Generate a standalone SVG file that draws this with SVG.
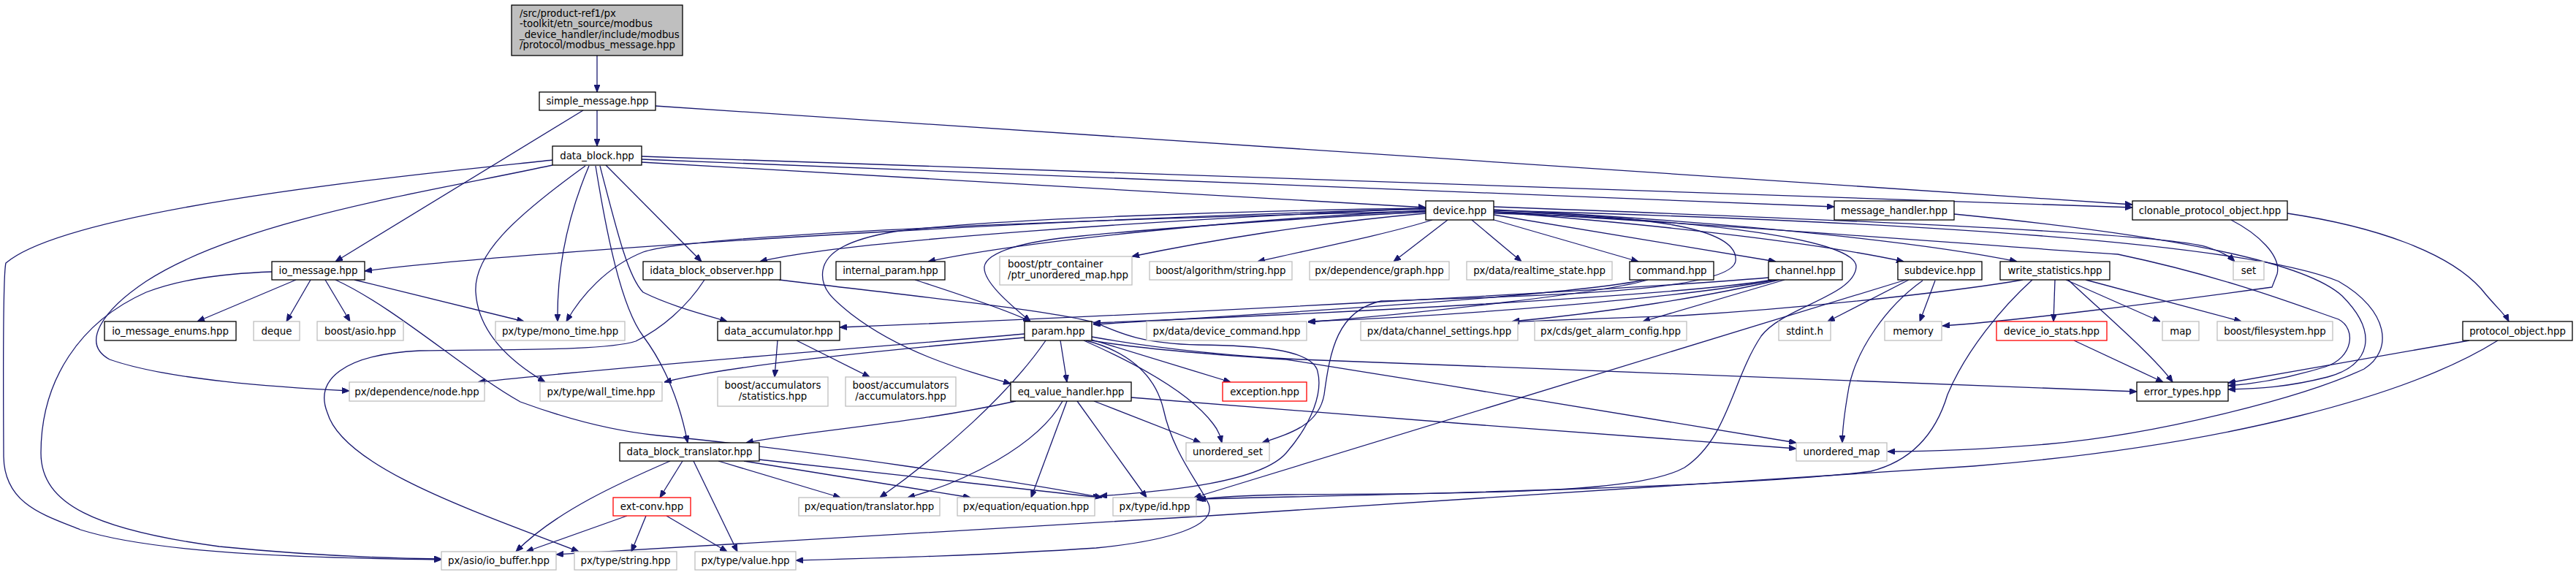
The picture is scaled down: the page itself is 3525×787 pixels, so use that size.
<svg xmlns="http://www.w3.org/2000/svg" width="3525" height="787" viewBox="0 0 3525 787">
<style>
.e{fill:none;stroke:#191970;stroke-width:1.3;marker-end:url(#ah)}
.n rect{fill:#fff;stroke:#000;stroke-width:1.3}
.g rect{fill:#fff;stroke:#bfbfbf;stroke-width:1.3}
.r rect{fill:#fff;stroke:#ff0000;stroke-width:1.3}
text{font-family:"DejaVu Sans","Liberation Sans",sans-serif;font-size:13.33px;fill:#000}
.c{text-anchor:middle}
</style>
<defs>
<marker id="ah" markerUnits="userSpaceOnUse" markerWidth="10" markerHeight="8" viewBox="0 0 10 8" refX="10" refY="4" orient="auto"><path d="M0,0 L10,4 L0,8 Z" fill="#191970" stroke="#191970"/></marker>
</defs>
<rect width="3525" height="787" fill="#fff"/>
<g id="edges">
<path class="e" d="M817,76 L817,126"/>
<path class="e" d="M817,151 L817,200"/>
<path class="e" d="M798,151 L459,358"/>
<path class="e" d="M897,145 L2918,280"/>
<path class="e" d="M878,214 L2918,284"/>
<path class="e" d="M878,218 L2510,283"/>
<path class="e" d="M878,222 L1951,284"/>
<path class="e" d="M829,226 L960,358"/>
<path class="e" d="M756,219 C600,236 100,282 8,360 C3,380 5,600 5,625 C6,690 60,705 110,725 C220,760 450,764 604,766"/>
<path class="e" d="M756,226 C600,260 330,300 200,385 C140,425 110,470 150,492 C230,520 380,530 478,535"/>
<path class="e" d="M372,372 C290,375 240,385 200,400 C110,440 56,520 56,620 C56,690 130,725 300,748 C420,760 520,764 604,765"/>
<path class="e" d="M405,383 L270,440"/>
<path class="e" d="M425,383 L392,440"/>
<path class="e" d="M445,383 L479,440"/>
<path class="e" d="M485,383 L717,440"/>
<path class="e" d="M459,383 C540,420 640,510 712,550 C780,575 840,590 900,596 C1100,615 1400,660 1508,681"/>
<path class="e" d="M801,227 C700,300 648,350 651,400 C654,450 690,490 746,523"/>
<path class="e" d="M806,227 C775,300 762,370 763,440"/>
<path class="e" d="M1951,289 C1500,300 950,320 880,345 C830,365 795,405 775,440"/>
<path class="e" d="M1951,286 C1400,300 700,345 499,371"/>
<path class="e" d="M815,227 C830,320 850,420 880,460 C910,500 930,550 941,606"/>
<path class="e" d="M821,227 C845,320 860,380 880,400 C920,420 970,432 995,440"/>
<path class="e" d="M1951,285 C1600,300 1150,330 1040,358"/>
<path class="e" d="M1951,288 C1700,300 1400,330 1270,358"/>
<path class="e" d="M1951,292 C1800,305 1650,330 1549,351"/>
<path class="e" d="M1960,301 C1900,320 1800,340 1721,358"/>
<path class="e" d="M1981,301 L1907,358"/>
<path class="e" d="M2014,301 L2082,358"/>
<path class="e" d="M2041,300 L2242,358"/>
<path class="e" d="M2044,294 L2430,358"/>
<path class="e" d="M2044,290 C2300,310 2500,335 2605,358"/>
<path class="e" d="M2044,287 C2400,305 2650,335 2760,358"/>
<path class="e" d="M2044,283 C2500,300 2950,318 3020,338 C3040,345 3050,350 3058,358"/>
<path class="e" d="M1951,290 C1750,300 1560,315 1480,323 C1400,330 1350,345 1347,365 C1345,385 1380,415 1410,440"/>
<path class="e" d="M1951,285 C1700,288 1350,300 1224,317 C1160,328 1130,345 1126,370 C1122,395 1140,410 1165,430 C1230,480 1310,505 1383,525"/>
<path class="e" d="M2044,290 C2250,295 2380,310 2375,357 C2370,400 2100,405 1890,412 C1830,425 1820,480 1812,540 C1805,580 1770,592 1727,606"/>
<path class="e" d="M2044,292 C2350,300 2540,330 2540,365 C2538,405 2440,420 2410,460 C2370,520 2365,600 2305,640 C2250,670 2100,676 1760,677 C1700,678 1665,680 1637,684"/>
<path class="e" d="M2044,288 C2500,300 3050,325 3200,385 C3270,425 3275,480 3235,505 C3150,545 2950,595 2800,608 C2700,616 2630,618 2583,618"/>
<path class="e" d="M2044,290 C2400,310 2700,335 2898,348 C3050,380 3150,420 3200,437 C3225,450 3220,490 3182,502 C3130,518 3090,525 3049,528"/>
<path class="e" d="M2674,293 C2950,320 3150,355 3205,405 C3255,455 3245,500 3185,516 C3130,530 3090,532 3049,533"/>
<path class="e" d="M3130,292 C3250,310 3350,345 3395,395 C3415,420 3428,430 3433,440"/>
<path class="e" d="M3053,301 C3090,320 3122,350 3116,375 L3109,393 C2950,415 2750,440 2658,446"/>
<path class="e" d="M3379,466 L3049,524"/>
<path class="e" d="M3418,466 C3300,540 3050,610 2700,638 C2300,668 1300,728 761,759"/>
<path class="e" d="M964,383 C940,420 905,450 870,467 C830,480 700,478 574,480 C470,485 430,520 448,565 C470,640 650,700 792,755"/>
<path class="e" d="M1066,383 C1250,405 1440,425 1500,442 C1530,455 1560,470 1640,472 C1720,473 1790,478 1802,505 C1812,535 1795,580 1760,620 C1725,660 1600,672 1505,679"/>
<path class="e" d="M1494,466 C1560,478 1700,488 1760,492 C2000,530 2300,580 2458,606"/>
<path class="e" d="M1402,457 C1200,475 900,497 654,523"/>
<path class="e" d="M1402,462 C1200,480 1000,500 909,523"/>
<path class="e" d="M1451,466 L1460,523"/>
<path class="e" d="M1431,466 C1380,540 1290,620 1204,681"/>
<path class="e" d="M1483,466 C1560,500 1630,540 1660,580 C1668,590 1670,598 1672,606"/>
<path class="e" d="M1494,465 L1684,523"/>
<path class="e" d="M1486,466 C1540,480 1580,510 1592,560 C1605,620 1640,660 1654,690 C1665,720 1600,740 1500,750 C1350,760 1200,764 1089,767"/>
<path class="e" d="M1494,461 C1600,480 1700,488 1780,492 L2924,536"/>
<path class="e" d="M1252,383 C1320,405 1380,425 1410,440"/>
<path class="e" d="M1390,549 C1250,580 1100,590 1021,606"/>
<path class="e" d="M1454,549 C1420,610 1320,660 1242,681"/>
<path class="e" d="M1460,549 L1411,681"/>
<path class="e" d="M1474,549 L1569,681"/>
<path class="e" d="M1497,549 L1643,606"/>
<path class="e" d="M1548,544 C1800,565 2200,595 2458,614"/>
<path class="e" d="M934,631 L903,681"/>
<path class="e" d="M917,631 C850,660 760,700 706,755"/>
<path class="e" d="M949,631 L1009,755"/>
<path class="e" d="M983,631 L1150,681"/>
<path class="e" d="M1018,631 L1328,681"/>
<path class="e" d="M1039,629 L1506,681"/>
<path class="e" d="M858,706 L720,755"/>
<path class="e" d="M884,706 L864,755"/>
<path class="e" d="M912,706 L995,755"/>
<path class="e" d="M1064,466 L1060,516"/>
<path class="e" d="M1090,466 L1190,516"/>
<path class="e" d="M2838,466 L2960,523"/>
<path class="e" d="M2812,383 L2810,440"/>
<path class="e" d="M2827,383 L2956,440"/>
<path class="e" d="M2854,383 L3067,440"/>
<path class="e" d="M2830,383 C2880,430 2950,490 2973,523"/>
<path class="e" d="M2768,383 C2700,395 2500,420 2300,432 C2200,436 2120,438 2069,441"/>
<path class="e" d="M2781,383 C2740,420 2690,480 2665,540 C2650,590 2620,630 2560,645 C2400,665 2000,675 1640,683"/>
<path class="e" d="M2612,383 L2501,440"/>
<path class="e" d="M2648,384 L2627,440"/>
<path class="e" d="M2631,384 C2580,420 2540,480 2530,530 C2523,570 2521,590 2521,606"/>
<path class="e" d="M2608,383 L1634,681"/>
<path class="e" d="M2250,383 C2150,405 1700,432 1496,444"/>
<path class="e" d="M2255,383 C2200,400 1950,428 1790,441"/>
<path class="e" d="M2425,383 C2300,405 1800,430 1496,442"/>
<path class="e" d="M2430,383 C2300,408 2000,432 1790,440"/>
<path class="e" d="M2435,383 C2340,405 2200,428 2069,440"/>
<path class="e" d="M2442,383 L2248,440"/>
<path class="e" d="M2420,380 C2200,398 1600,430 1149,448"/>
</g>
<g id="root"><rect x="700" y="7" width="234" height="69" style="fill:#bfbfbf;stroke:#000;stroke-width:1.3"/><text x="711" y="22.5">/src/product-ref1/px</text><text x="711" y="37">-toolkit/etn_source/modbus</text><text x="711" y="51.5">_device_handler/include/modbus</text><text x="711" y="66">/protocol/modbus_message.hpp</text></g>
<g id="simple_message" class="n"><rect x="738" y="126" width="159" height="25"/><text class="c" x="817.5" y="143">simple_message.hpp</text></g>
<g id="data_block" class="n"><rect x="756" y="200" width="122" height="26"/><text class="c" x="817" y="217.5">data_block.hpp</text></g>
<g id="device" class="n"><rect x="1951" y="275" width="93" height="26"/><text class="c" x="1997.5" y="292.5">device.hpp</text></g>
<g id="message_handler" class="n"><rect x="2510" y="275" width="164" height="26"/><text class="c" x="2592" y="292.5">message_handler.hpp</text></g>
<g id="clonable_protocol_object" class="n"><rect x="2918" y="275" width="212" height="26"/><text class="c" x="3024" y="292.5">clonable_protocol_object.hpp</text></g>
<g id="io_message" class="n"><rect x="372" y="358" width="127" height="25"/><text class="c" x="435.5" y="375">io_message.hpp</text></g>
<g id="idata_block_observer" class="n"><rect x="880" y="358" width="188" height="25"/><text class="c" x="974" y="375">idata_block_observer.hpp</text></g>
<g id="internal_param" class="n"><rect x="1144" y="358" width="149" height="25"/><text class="c" x="1218.5" y="375">internal_param.hpp</text></g>
<g id="ptr_unordered_map" class="g"><rect x="1368" y="351" width="181" height="39"/><text x="1379" y="366">boost/ptr_container</text><text x="1379" y="381">/ptr_unordered_map.hpp</text></g>
<g id="algorithm_string" class="g"><rect x="1573" y="358" width="195" height="25"/><text class="c" x="1670.5" y="375">boost/algorithm/string.hpp</text></g>
<g id="dependence_graph" class="g"><rect x="1792" y="358" width="191" height="25"/><text class="c" x="1887.5" y="375">px/dependence/graph.hpp</text></g>
<g id="realtime_state" class="g"><rect x="2007" y="358" width="199" height="25"/><text class="c" x="2106.5" y="375">px/data/realtime_state.hpp</text></g>
<g id="command" class="n"><rect x="2230" y="358" width="115" height="25"/><text class="c" x="2287.5" y="375">command.hpp</text></g>
<g id="channel" class="n"><rect x="2420" y="358" width="101" height="25"/><text class="c" x="2470.5" y="375">channel.hpp</text></g>
<g id="subdevice" class="n"><rect x="2597" y="358" width="115" height="25"/><text class="c" x="2654.5" y="375">subdevice.hpp</text></g>
<g id="write_statistics" class="n"><rect x="2737" y="358" width="150" height="25"/><text class="c" x="2812" y="375">write_statistics.hpp</text></g>
<g id="set" class="g"><rect x="3056" y="358" width="42" height="25"/><text class="c" x="3077" y="375">set</text></g>
<g id="io_message_enums" class="n"><rect x="143" y="440" width="180" height="26"/><text class="c" x="233" y="457.5">io_message_enums.hpp</text></g>
<g id="deque" class="g"><rect x="347" y="440" width="63" height="26"/><text class="c" x="378.5" y="457.5">deque</text></g>
<g id="boost_asio" class="g"><rect x="434" y="440" width="118" height="26"/><text class="c" x="493" y="457.5">boost/asio.hpp</text></g>
<g id="mono_time" class="g"><rect x="678" y="440" width="177" height="26"/><text class="c" x="766.5" y="457.5">px/type/mono_time.hpp</text></g>
<g id="data_accumulator" class="n"><rect x="982" y="440" width="167" height="26"/><text class="c" x="1065.5" y="457.5">data_accumulator.hpp</text></g>
<g id="param" class="n"><rect x="1402" y="440" width="92" height="26"/><text class="c" x="1448" y="457.5">param.hpp</text></g>
<g id="device_command" class="g"><rect x="1569" y="440" width="219" height="26"/><text class="c" x="1678.5" y="457.5">px/data/device_command.hpp</text></g>
<g id="channel_settings" class="g"><rect x="1862" y="440" width="215" height="26"/><text class="c" x="1969.5" y="457.5">px/data/channel_settings.hpp</text></g>
<g id="get_alarm_config" class="g"><rect x="2100" y="440" width="208" height="26"/><text class="c" x="2204" y="457.5">px/cds/get_alarm_config.hpp</text></g>
<g id="stdint" class="g"><rect x="2434" y="440" width="71" height="26"/><text class="c" x="2469.5" y="457.5">stdint.h</text></g>
<g id="memory" class="g"><rect x="2579" y="440" width="78" height="26"/><text class="c" x="2618" y="457.5">memory</text></g>
<g id="device_io_stats" class="r"><rect x="2732" y="440" width="151" height="26"/><text class="c" x="2807.5" y="457.5">device_io_stats.hpp</text></g>
<g id="map" class="g"><rect x="2959" y="440" width="50" height="26"/><text class="c" x="2984" y="457.5">map</text></g>
<g id="filesystem" class="g"><rect x="3034" y="440" width="158" height="26"/><text class="c" x="3113" y="457.5">boost/filesystem.hpp</text></g>
<g id="protocol_object" class="n"><rect x="3370" y="440" width="150" height="26"/><text class="c" x="3445" y="457.5">protocol_object.hpp</text></g>
<g id="dependence_node" class="g"><rect x="478" y="523" width="185" height="26"/><text class="c" x="570.5" y="540.5">px/dependence/node.hpp</text></g>
<g id="wall_time" class="g"><rect x="739" y="523" width="167" height="26"/><text class="c" x="822.5" y="540.5">px/type/wall_time.hpp</text></g>
<g id="acc_statistics" class="g"><rect x="982" y="516" width="151" height="40"/><text class="c" x="1057.5" y="531.5">boost/accumulators</text><text class="c" x="1057.5" y="546.5">/statistics.hpp</text></g>
<g id="acc_accumulators" class="g"><rect x="1157" y="516" width="151" height="40"/><text class="c" x="1232.5" y="531.5">boost/accumulators</text><text class="c" x="1232.5" y="546.5">/accumulators.hpp</text></g>
<g id="eq_value_handler" class="n"><rect x="1383" y="523" width="165" height="26"/><text class="c" x="1465.5" y="540.5">eq_value_handler.hpp</text></g>
<g id="exception" class="r"><rect x="1673" y="523" width="115" height="26"/><text class="c" x="1730.5" y="540.5">exception.hpp</text></g>
<g id="error_types" class="n"><rect x="2924" y="523" width="125" height="26"/><text class="c" x="2986.5" y="540.5">error_types.hpp</text></g>
<g id="data_block_translator" class="n"><rect x="848" y="606" width="191" height="25"/><text class="c" x="943.5" y="623">data_block_translator.hpp</text></g>
<g id="unordered_set" class="g"><rect x="1623" y="606" width="114" height="25"/><text class="c" x="1680" y="623">unordered_set</text></g>
<g id="unordered_map" class="g"><rect x="2458" y="606" width="124" height="25"/><text class="c" x="2520" y="623">unordered_map</text></g>
<g id="ext_conv" class="r"><rect x="839" y="681" width="106" height="25"/><text class="c" x="892" y="698">ext-conv.hpp</text></g>
<g id="eq_translator" class="g"><rect x="1093" y="681" width="193" height="25"/><text class="c" x="1189.5" y="698">px/equation/translator.hpp</text></g>
<g id="eq_equation" class="g"><rect x="1310" y="681" width="188" height="25"/><text class="c" x="1404" y="698">px/equation/equation.hpp</text></g>
<g id="type_id" class="g"><rect x="1523" y="681" width="114" height="25"/><text class="c" x="1580" y="698">px/type/id.hpp</text></g>
<g id="io_buffer" class="g"><rect x="604" y="755" width="157" height="25"/><text class="c" x="682.5" y="772">px/asio/io_buffer.hpp</text></g>
<g id="type_string" class="g"><rect x="786" y="755" width="140" height="25"/><text class="c" x="856" y="772">px/type/string.hpp</text></g>
<g id="type_value" class="g"><rect x="951" y="755" width="138" height="25"/><text class="c" x="1020" y="772">px/type/value.hpp</text></g>
</svg>
